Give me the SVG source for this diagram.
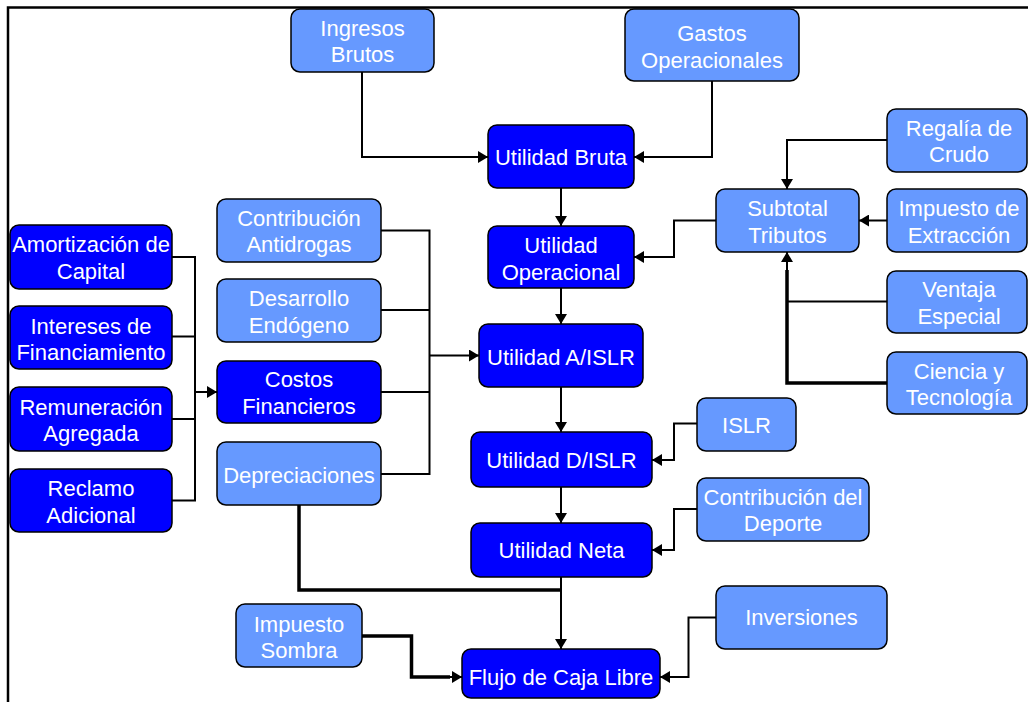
<svg xmlns="http://www.w3.org/2000/svg" width="1028" height="702" viewBox="0 0 1028 702">
  <defs>
    <marker id="arrow" markerUnits="userSpaceOnUse" markerWidth="11" markerHeight="12" refX="10" refY="6" orient="auto">
      <path d="M0,0 L10,6 L0,12 z" fill="#000"/>
    </marker>
    <style>
      .dark { fill: #0000FF; stroke: #000; stroke-width: 1.5; }
      .light { fill: #6699FF; stroke: #000; stroke-width: 1.5; }
      text { font-family: "Liberation Sans", Arial, sans-serif; font-size: 22px; fill: #fff; text-anchor: middle; }
      .wire { fill: none; stroke: #000; stroke-width: 2; }
      .thick { fill: none; stroke: #000; stroke-width: 3.5; }
      .frame { fill: none; stroke: #000; stroke-width: 2.5; }
    </style>
  </defs>

  <rect width="1028" height="702" fill="#fff"/>
  <!-- page frame -->
  <path class="frame" d="M8,702 V7.5 H1028"/>

  <!-- connectors -->
  <g id="connectors">
    <path class="wire" d="M362,72 V157 H488" marker-end="url(#arrow)"/>
    <path class="wire" d="M712,81 V157 H634" marker-end="url(#arrow)"/>
    <path class="wire" d="M561,188 V226" marker-end="url(#arrow)"/>
    <path class="wire" d="M716,220.5 H674 V257 H634" marker-end="url(#arrow)"/>
    <path class="wire" d="M887,140 H787 V189" marker-end="url(#arrow)"/>
    <path class="wire" d="M887,220.5 H859" marker-end="url(#arrow)"/>
    <path class="wire" d="M887,301.5 H787"/>
    <path class="thick" d="M887,383 H787 V270"/>
    <path class="wire" d="M787,272 V252" marker-end="url(#arrow)"/>
    <path class="wire" d="M561,288 V324" marker-end="url(#arrow)"/>

    <path class="wire" d="M172,257 H195 M172,336.5 H195 M172,419 H195 M172,500.5 H195 M195,256 V501.5"/>
    <path class="wire" d="M195,392 H217" marker-end="url(#arrow)"/>

    <path class="wire" d="M381,230.5 H429.5 M381,310 H429.5 M381,392 H429.5 M381,474 H429.5 M429.5,229.5 V475"/>
    <path class="wire" d="M429.5,355.5 H479" marker-end="url(#arrow)"/>

    <path class="wire" d="M561,387 V432" marker-end="url(#arrow)"/>
    <path class="wire" d="M697,423.5 H674 V460 H652" marker-end="url(#arrow)"/>
    <path class="wire" d="M561,487 V523" marker-end="url(#arrow)"/>
    <path class="wire" d="M697,509 H674 V550 H652" marker-end="url(#arrow)"/>

    <path class="thick" d="M299,505 V590 H561"/>
    <path class="wire" d="M561,577 V649" marker-end="url(#arrow)"/>
    <path class="thick" d="M362,636 H411.5 V677 H450"/>
    <path class="wire" d="M448,677 H462" marker-end="url(#arrow)"/>
    <path class="wire" d="M716,617.5 H688.5 V677 H660" marker-end="url(#arrow)"/>
  </g>

  <!-- nodes -->
  <g id="ingresos-brutos">
    <rect class="light" x="291" y="9" width="143" height="63" rx="9"/>
    <text x="362.5" y="36">Ingresos</text>
    <text x="362.5" y="62">Brutos</text>
  </g>
  <g id="gastos-operacionales">
    <rect class="light" x="625" y="9" width="174" height="72" rx="9"/>
    <text x="712" y="41">Gastos</text>
    <text x="712" y="68">Operacionales</text>
  </g>
  <g id="utilidad-bruta">
    <rect class="dark" x="488" y="125" width="146" height="63" rx="9"/>
    <text x="561" y="165">Utilidad Bruta</text>
  </g>
  <g id="utilidad-operacional">
    <rect class="dark" x="488" y="226" width="146" height="62" rx="9"/>
    <text x="561" y="253">Utilidad</text>
    <text x="561" y="280">Operacional</text>
  </g>
  <g id="subtotal-tributos">
    <rect class="light" x="716" y="189" width="143" height="63" rx="9"/>
    <text x="787.5" y="216">Subtotal</text>
    <text x="787.5" y="243">Tributos</text>
  </g>
  <g id="regalia-crudo">
    <rect class="light" x="887" y="109" width="140" height="63" rx="9"/>
    <text x="959" y="136">Regalía de</text>
    <text x="959" y="162">Crudo</text>
  </g>
  <g id="impuesto-extraccion">
    <rect class="light" x="887" y="189" width="140" height="63" rx="9"/>
    <text x="959" y="216">Impuesto de</text>
    <text x="959" y="243">Extracción</text>
  </g>
  <g id="ventaja-especial">
    <rect class="light" x="887" y="271" width="140" height="62" rx="9"/>
    <text x="959" y="297">Ventaja</text>
    <text x="959" y="324">Especial</text>
  </g>
  <g id="ciencia-tecnologia">
    <rect class="light" x="887" y="352" width="140" height="62" rx="9"/>
    <text x="959" y="379">Ciencia y</text>
    <text x="959" y="405">Tecnología</text>
  </g>

  <g id="amortizacion-capital">
    <rect class="dark" x="10" y="225" width="162" height="64" rx="9"/>
    <text x="91" y="252">Amortización de</text>
    <text x="91" y="279">Capital</text>
  </g>
  <g id="intereses-financiamiento">
    <rect class="dark" x="10" y="306" width="162" height="63" rx="9"/>
    <text x="91" y="334">Intereses de</text>
    <text x="91" y="360">Financiamiento</text>
  </g>
  <g id="remuneracion-agregada">
    <rect class="dark" x="10" y="387" width="162" height="64" rx="9"/>
    <text x="91" y="415">Remuneración</text>
    <text x="91" y="441">Agregada</text>
  </g>
  <g id="reclamo-adicional">
    <rect class="dark" x="10" y="469" width="162" height="63" rx="9"/>
    <text x="91" y="496">Reclamo</text>
    <text x="91" y="523">Adicional</text>
  </g>

  <g id="contribucion-antidrogas">
    <rect class="light" x="217" y="199" width="164" height="63" rx="9"/>
    <text x="299" y="226">Contribución</text>
    <text x="299" y="252">Antidrogas</text>
  </g>
  <g id="desarrollo-endogeno">
    <rect class="light" x="217" y="279" width="164" height="63" rx="9"/>
    <text x="299" y="306">Desarrollo</text>
    <text x="299" y="333">Endógeno</text>
  </g>
  <g id="costos-financieros">
    <rect class="dark" x="217" y="361" width="164" height="62" rx="9"/>
    <text x="299" y="387">Costos</text>
    <text x="299" y="414">Financieros</text>
  </g>
  <g id="depreciaciones">
    <rect class="light" x="217" y="442" width="164" height="63" rx="9"/>
    <text x="299" y="483">Depreciaciones</text>
  </g>

  <g id="utilidad-a-islr">
    <rect class="dark" x="479" y="324" width="164" height="63" rx="9"/>
    <text x="561" y="365">Utilidad A/ISLR</text>
  </g>
  <g id="islr">
    <rect class="light" x="697" y="398" width="99" height="53" rx="9"/>
    <text x="746.5" y="433">ISLR</text>
  </g>
  <g id="utilidad-d-islr">
    <rect class="dark" x="471" y="432" width="181" height="55" rx="9"/>
    <text x="561.5" y="468">Utilidad D/ISLR</text>
  </g>
  <g id="contribucion-deporte">
    <rect class="light" x="697" y="478" width="172" height="63" rx="9"/>
    <text x="783" y="505">Contribución del</text>
    <text x="783" y="531">Deporte</text>
  </g>
  <g id="utilidad-neta">
    <rect class="dark" x="471" y="523" width="181" height="54" rx="9"/>
    <text x="561.5" y="558">Utilidad Neta</text>
  </g>
  <g id="impuesto-sombra">
    <rect class="light" x="236" y="604" width="126" height="63" rx="9"/>
    <text x="299" y="632">Impuesto</text>
    <text x="299" y="658">Sombra</text>
  </g>
  <g id="inversiones">
    <rect class="light" x="716" y="586" width="171" height="63" rx="9"/>
    <text x="801.5" y="625">Inversiones</text>
  </g>
  <g id="flujo-caja-libre">
    <rect class="dark" x="462" y="649" width="198" height="49" rx="9"/>
    <text x="561" y="685">Flujo de Caja Libre</text>
  </g>
</svg>
